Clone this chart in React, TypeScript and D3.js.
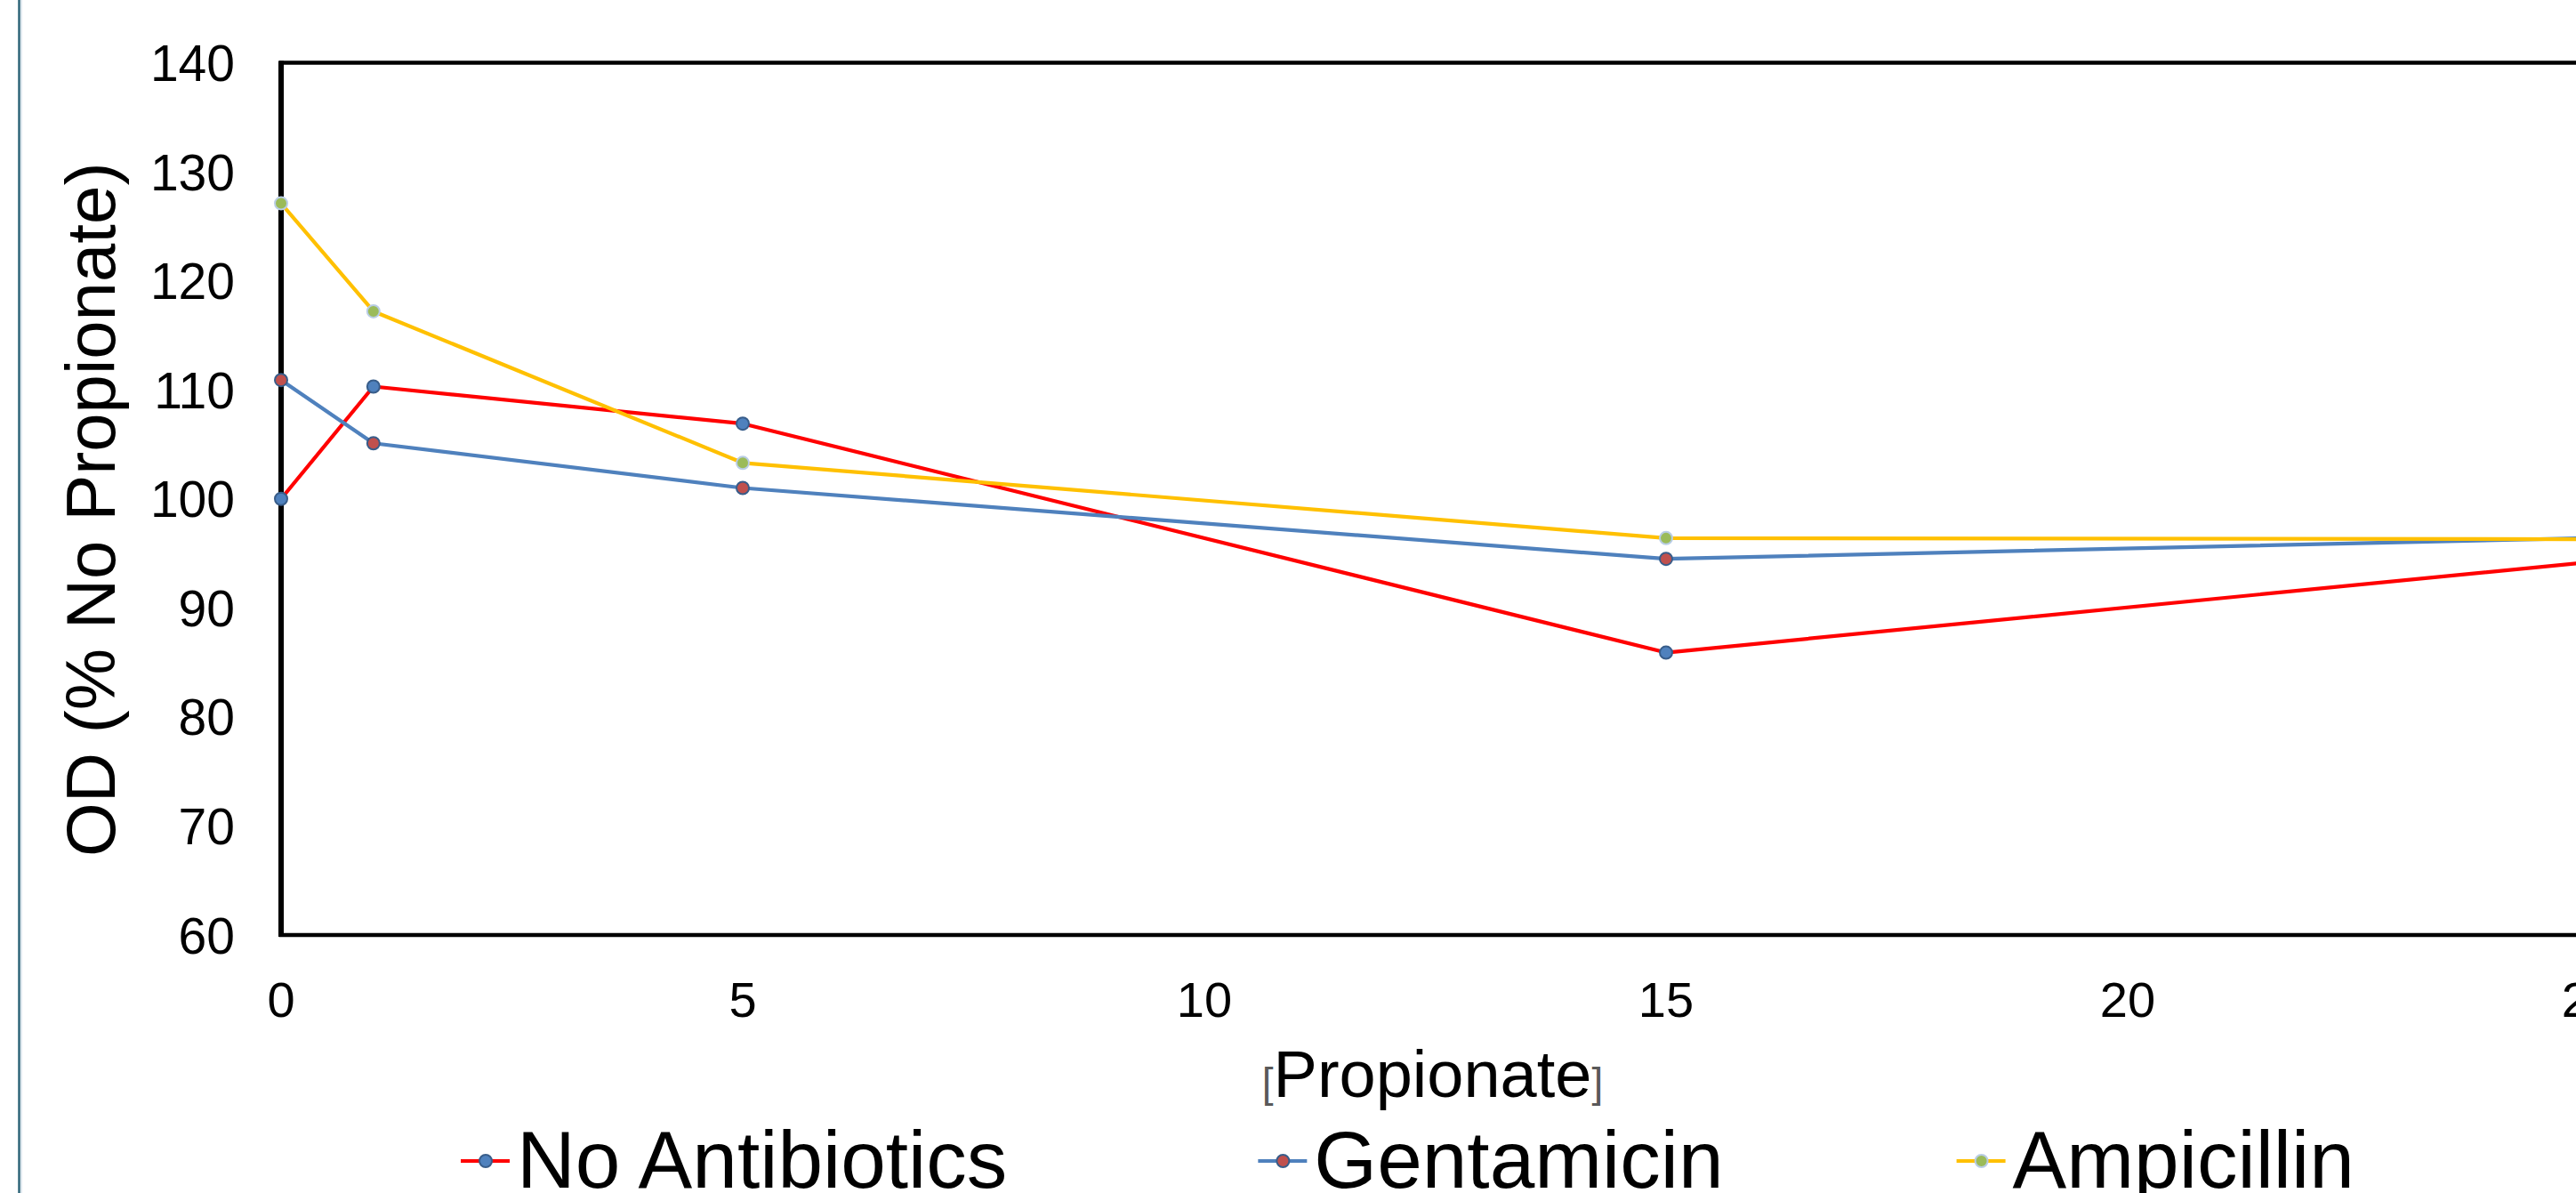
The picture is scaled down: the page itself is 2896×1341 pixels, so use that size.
import React, { useEffect, useRef } from 'react'
import * as d3 from 'd3'

// propionate concentration on the x axis
const concentrations = [0, 1, 5, 15, 25]

const seriesNames = ['No Antibiotics', 'Gentamicin', 'Ampicillin']
const noAntibiotics = [100, 110.3, 106.9, 85.9, 94.2]
const gentamicin = [110.9, 105.1, 101.0, 94.5, 96.4]
const ampicillin = [127.1, 117.2, 103.3, 96.4, 96.3]

const xTicks = [0, 5, 10, 15, 20, 25]
const yTicks = [60, 70, 80, 90, 100, 110, 120, 130, 140]

const lineColors = ['#FF0000', '#4F81BD', '#FFC000']
const markerFills = ['#4F81BD', '#C0504D', '#9BBB59']
const markerStrokes = ['#385D8A', '#385D8A', '#B9CDE5']

const WIDTH = 2896
const HEIGHT = 1341
const FONT = '"Liberation Sans", Arial, sans-serif'

const App: React.FC = () => {
  const svgRef = useRef<SVGSVGElement>(null)

  useEffect(() => {
    document.body.style.margin = '0'
    document.body.style.overflow = 'hidden'
    if (!svgRef.current) return

    const svg = d3.select(svgRef.current)
    svg.selectAll('*').remove()

    const plot = { left: 316, right: 2911, top: 70.5, bottom: 1051 }

    const x = d3.scaleLinear().domain([0, 25]).range([plot.left, plot.right])
    const y = d3.scaleLinear().domain([60, 140]).range([plot.bottom, plot.top])

    svg.append('rect').attr('width', WIDTH).attr('height', HEIGHT).attr('fill', '#fff')

    // thin slide border on the left
    svg.append('line')
      .attr('x1', 21.5).attr('x2', 21.5).attr('y1', 0).attr('y2', HEIGHT)
      .attr('stroke', '#2E6478').attr('stroke-width', 2.5)
    svg.append('line')
      .attr('x1', 24).attr('x2', 24).attr('y1', 0).attr('y2', HEIGHT)
      .attr('stroke', '#D6E2EA').attr('stroke-width', 1.5)

    // plot frame
    svg.append('rect')
      .attr('x', plot.left).attr('y', plot.top)
      .attr('width', plot.right - plot.left).attr('height', plot.bottom - plot.top)
      .attr('fill', 'none').attr('stroke', '#000').attr('stroke-width', 4.5)
    svg.append('line')
      .attr('x1', plot.left).attr('x2', plot.left).attr('y1', plot.top - 2).attr('y2', plot.bottom + 2)
      .attr('stroke', '#000').attr('stroke-width', 6)

    // y tick labels
    svg.append('g').selectAll('text')
      .data(yTicks)
      .join('text')
      .attr('x', 264)
      .attr('y', d => y(d))
      .attr('dy', '0.36em')
      .attr('text-anchor', 'end')
      .attr('font-family', FONT)
      .attr('font-size', 57)
      .text(d => d)

    // x tick labels
    svg.append('g').selectAll('text')
      .data(xTicks)
      .join('text')
      .attr('x', d => x(d))
      .attr('y', 1143)
      .attr('text-anchor', 'middle')
      .attr('font-family', FONT)
      .attr('font-size', 56)
      .text(d => d)

    // axis titles
    svg.append('text')
      .attr('transform', `translate(129,${(plot.top + plot.bottom) / 2 + 12}) rotate(-90)`)
      .attr('text-anchor', 'middle')
      .attr('font-family', FONT)
      .attr('font-size', 78)
      .text('OD (% No Propionate)')

    const xTitle = svg.append('text')
      .attr('x', (plot.left + plot.right) / 2 - 3)
      .attr('y', 1233)
      .attr('text-anchor', 'middle')
      .attr('font-family', FONT)
    xTitle.append('tspan').attr('font-size', 46).attr('fill', '#595959').text('[')
    xTitle.append('tspan').attr('font-size', 74).attr('fill', '#000').text('Propionate')
    xTitle.append('tspan').attr('font-size', 46).attr('fill', '#595959').text(']')

    const allSeries = [noAntibiotics, gentamicin, ampicillin]

    const line = d3.line<number>()
      .x((_, i) => x(concentrations[i]))
      .y(d => y(d))

    allSeries.forEach((values, s) => {
      const g = svg.append('g')
      g.append('path')
        .datum(values)
        .attr('d', line)
        .attr('fill', 'none')
        .attr('stroke', lineColors[s])
        .attr('stroke-width', 4.2)
        .attr('stroke-linejoin', 'round')
      g.selectAll('circle')
        .data(values)
        .join('circle')
        .attr('cx', (_, i) => x(concentrations[i]))
        .attr('cy', d => y(d))
        .attr('r', 7)
        .attr('fill', markerFills[s])
        .attr('stroke', markerStrokes[s])
        .attr('stroke-width', 2)
    })

    // legend along the bottom, cut by the lower edge as in the slide
    const legend = svg.append('g')
    const gaps = [282, 262]
    let cursor = 518
    seriesNames.forEach((name, s) => {
      const item = legend.append('g').attr('transform', `translate(${cursor},0)`)
      item.append('line')
        .attr('x1', 0).attr('x2', 55).attr('y1', 1305).attr('y2', 1305)
        .attr('stroke', lineColors[s]).attr('stroke-width', 4.2)
      item.append('circle')
        .attr('cx', 28).attr('cy', 1305).attr('r', 7)
        .attr('fill', markerFills[s])
        .attr('stroke', markerStrokes[s]).attr('stroke-width', 2)
      const label = item.append('text')
        .attr('x', 63)
        .attr('y', 1335)
        .attr('font-family', FONT)
        .attr('font-size', 91)
        .text(name)
      const w = (label.node() as SVGTextElement).getComputedTextLength()
      cursor += 63 + w + (gaps[s] ?? 0)
    })
  }, [])

  return (
    <svg
      ref={svgRef}
      width={WIDTH}
      height={HEIGHT}
      style={{ position: 'absolute', left: 0, top: 0, display: 'block' }}
    />
  )
}

export default App
